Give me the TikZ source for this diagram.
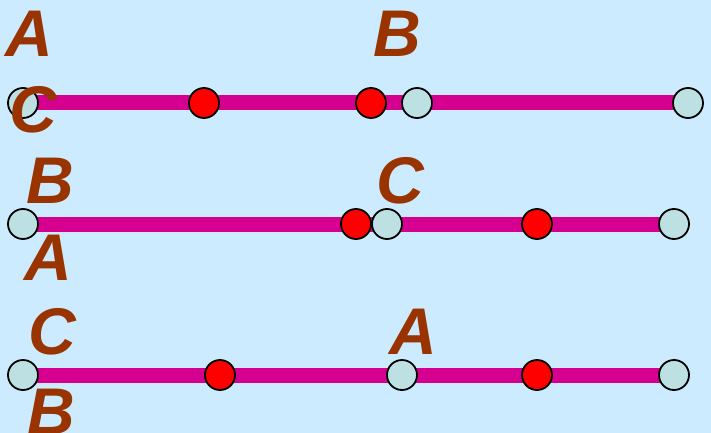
\documentclass[tikz,border=0pt]{standalone}
\usepackage{fontspec}
\setmainfont{Liberation Sans}
\definecolor{bgblue}{RGB}{204,235,255}
\definecolor{barmag}{RGB}{213,0,143}
\definecolor{endfill}{RGB}{189,224,227}
\definecolor{lblbrown}{RGB}{153,51,0}
\begin{document}
\begin{tikzpicture}[x=1pt,y=-1pt,
  bar/.style={line width=15pt,draw=barmag},
  pt/.style={circle,draw=black,line width=1.8pt,minimum size=30pt,inner sep=0pt},
  endpt/.style={pt,fill=endfill},
  midpt/.style={pt,fill=red},
  lbl/.style={text=lblbrown,font=\fontsize{66}{66}\selectfont\bfseries\itshape,inner sep=0pt,anchor=center}]
\fill[bgblue] (0,0) rectangle (711,433);
\useasboundingbox (0,0) rectangle (711,433);
% row 1
\coordinate (r1a) at (23,103);
\coordinate (r1b) at (688,103);
\draw[bar] (r1a) -- (r1b);
\node[endpt] (p11) at (r1a) {};
\node[midpt] (p12) at (204,103) {};
\node[midpt] (p13) at (371,103) {};
\node[endpt] (p14) at (417,103) {};
\node[endpt] (p15) at (r1b) {};
\node[lbl] (l1A) at (29,34) {A};
\node[lbl] (l1B) at (397,34) {B};
\node[lbl] (l1C) at (33,110) {C};
% row 2
\coordinate (r2a) at (23,224);
\coordinate (r2b) at (674,224);
\draw[bar] (r2a) -- (r2b);
\node[endpt] (p21) at (r2a) {};
\node[midpt] (p22) at (356,224) {};
\node[endpt] (p23) at (387,224) {};
\node[midpt] (p24) at (537,224) {};
\node[endpt] (p25) at (r2b) {};
\node[lbl] (l2B) at (50,181) {B};
\node[lbl] (l2A) at (48,258) {A};
\node[lbl] (l2C) at (400,181) {C};
% row 3
\coordinate (r3a) at (23,375);
\coordinate (r3b) at (674,375);
\draw[bar] (r3a) -- (r3b);
\node[endpt] (p31) at (r3a) {};
\node[midpt] (p32) at (220,375) {};
\node[endpt] (p33) at (402,375) {};
\node[midpt] (p34) at (537,375) {};
\node[endpt] (p35) at (r3b) {};
\node[lbl] (l3C) at (52,332) {C};
\node[lbl] (l3B) at (51,412) {B};
\node[lbl] (l3A) at (413,332) {A};
\end{tikzpicture}
\end{document}
